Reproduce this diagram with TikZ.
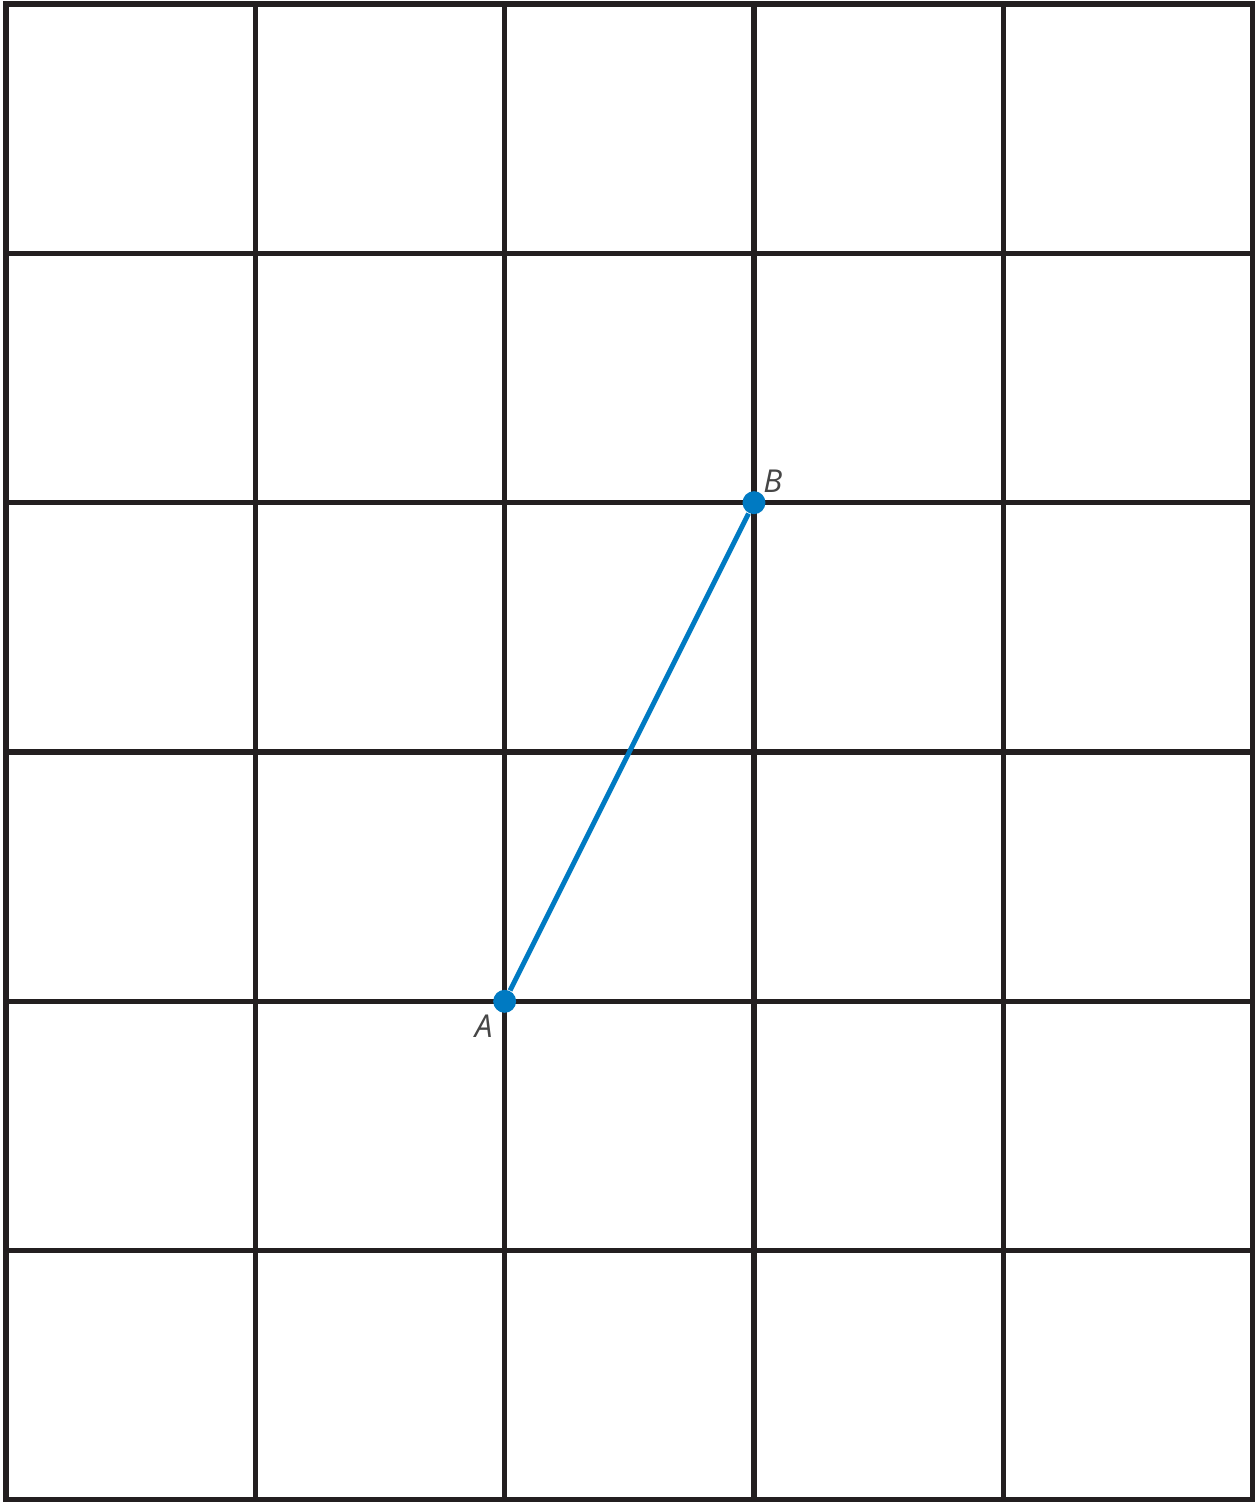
\documentclass[tikz,border=0pt]{standalone}
\usepackage{fontspec}
\setsansfont{Open Sans}
\usetikzlibrary{arrows}
\definecolor{bleu}{RGB}{0,122,194}
\definecolor{noirgrille}{RGB}{35,31,32}
\definecolor{gristexte}{RGB}{70,70,70}
\begin{document}
\begin{tikzpicture}
% Styles
\tikzstyle{cadre}=[line width=1.6pt,noirgrille]
\tikzstyle{segment}=[line width=1.4pt,bleu]
\tikzstyle{point}=[circle,fill=bleu,inner sep=0pt,minimum size=0.23cm]
\tikzstyle{etiquette}=[text=gristexte,font=\sffamily\itshape\fontsize{9}{10}\selectfont,inner sep=0pt]
% Dimensions
\def\Cote{2.5}
\def\droite{5*\Cote}
\def\haut{6*\Cote}
% Cadre de l'image
\useasboundingbox (-0.06,-0.02) rectangle (12.53,15.04);
% Quadrillage
\draw[cadre] (0,0) grid[step=\Cote] (\droite,\haut);
\draw[cadre] (0,0) rectangle (\droite,\haut);
% Points
\node[point] (A) at (2*\Cote,2*\Cote) {};
\node[point] (B) at (3*\Cote,4*\Cote) {};
% Segment
\draw[segment] (A) -- (B);
% Noms des points
\node[etiquette] (lA) at ([shift={(-0.21,-0.25)}]A.center) {A};
\node[etiquette] (lB) at ([shift={(0.19,0.21)}]B.center) {B};
\end{tikzpicture}
\end{document}
